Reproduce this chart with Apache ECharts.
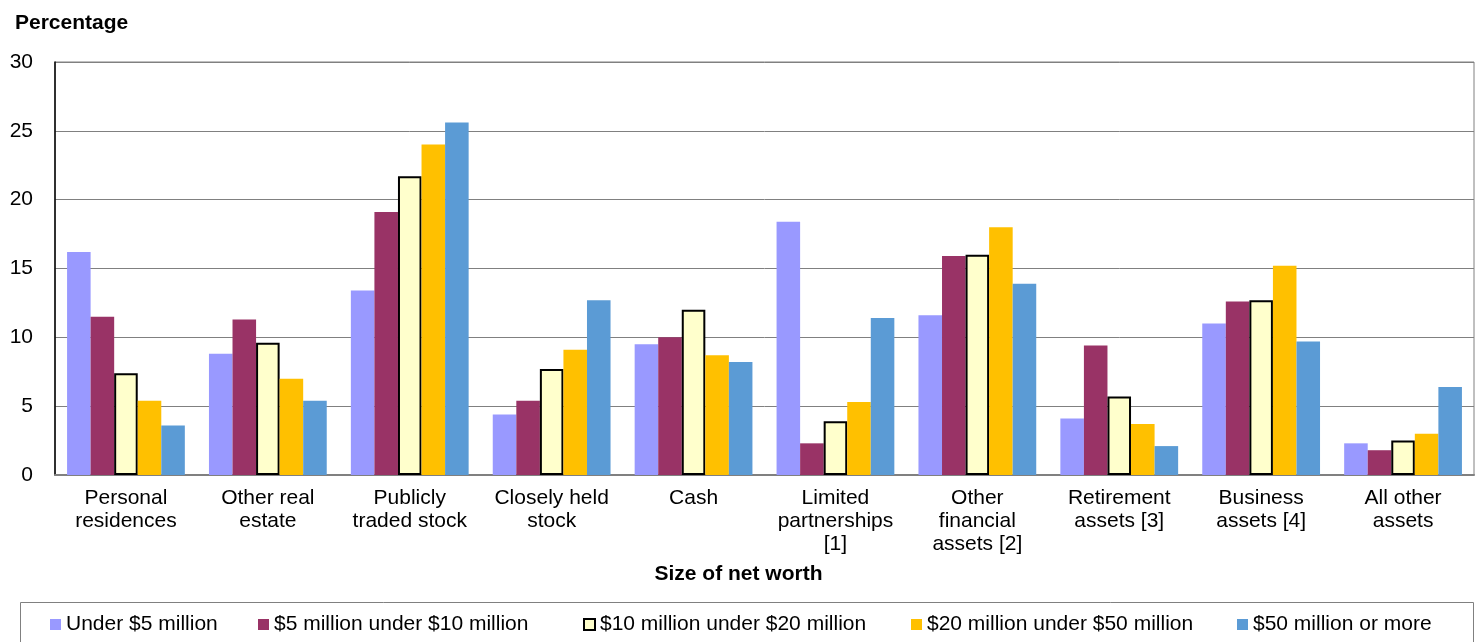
<!DOCTYPE html>
<html><head><meta charset="utf-8">
<script src="https://cdn.jsdelivr.net/npm/echarts@6/dist/echarts.min.js"></script>
<style>html,body{margin:0;padding:0;background:#fff}#c{width:1477px;height:642px}</style>
</head><body><div id="c"></div>
<script>
const categories = ['Personal\nresidences','Other real\nestate','Publicly\ntraded stock','Closely held\nstock','Cash','Limited\npartnerships\n[1]','Other\nfinancial\nassets [2]','Retirement\nassets [3]','Business\nassets [4]','All other\nassets'];
const seriesNames = ['Under $5 million','$5 million under $10 million','$10 million under $20 million','$20 million under $50 million','$50 million or more'];
const under5 = [16.2, 8.8, 13.4, 4.4, 9.5, 18.4, 11.6, 4.1, 11.0, 2.3];
const m5to10 = [11.5, 11.3, 19.1, 5.4, 10.0, 2.3, 15.9, 9.4, 12.6, 1.8];
const m10to20 = [7.4, 9.6, 21.7, 7.7, 12.0, 3.9, 16.0, 5.7, 12.7, 2.5];
const m20to50 = [5.4, 7.0, 24.0, 9.1, 8.7, 5.3, 18.0, 3.7, 15.2, 3.0];
const m50plus = [3.6, 5.4, 25.6, 12.7, 8.2, 11.4, 13.9, 2.1, 9.7, 6.4];
const yTicks = [0, 5, 10, 15, 20, 25, 30];

const colors = ['#9999FF','#993366','#FFFFCC','#FFC000','#5B9BD5'];
const dataSets = [under5, m5to10, m10to20, m20to50, m50plus];
const legendLefts = [50, 258, 583, 911, 1237];
const font = 'Liberation Sans, Arial, sans-serif';
const fs = 21;

const chart = echarts.init(document.getElementById('c'));
chart.setOption({
  animation: false,
  textStyle: {fontFamily: font},
  grid: {left: 55, right: 3, top: 62, bottom: 167, show: true, borderColor: '#808080', borderWidth: 1},
  title: {text: 'Percentage', left: 10, top: 8, textStyle: {fontFamily: font, fontSize: fs, fontWeight: 'bold', color: '#000'}},
  graphic: [
    {type: 'rect', shape: {x: 20.5, y: 602.5, width: 1453, height: 60}, style: {fill: 'none', stroke: '#808080', lineWidth: 1}},
    {type: 'text', left: 'center', top: 564, style: {text: 'Size of net worth', font: 'bold 21px Liberation Sans, Arial, sans-serif', fill: '#000'}}
  ],
  legend: seriesNames.map((n, i) => ({
    left: legendLefts[i], top: 614, itemWidth: 11, itemHeight: 11, padding: 0,
    icon: 'rect', selectedMode: false,
    textStyle: {fontFamily: font, fontSize: fs, color: '#000', padding: [0, 0, 0, 0]},
    data: [{name: n, itemStyle: i === 2 ? {color: '#FFFFCC', borderColor: '#000', borderWidth: 2} : {}}]
  })),
  xAxis: {
    type: 'category', data: categories,
    axisLine: {lineStyle: {color: '#808080', width: 2}},
    axisTick: {show: false},
    axisLabel: {fontFamily: font, fontSize: fs, color: '#000', lineHeight: 23, margin: 12, interval: 0}
  },
  yAxis: {
    type: 'value', min: 0, max: 30, interval: 5,
    axisLine: {show: true, lineStyle: {color: '#000', width: 1.5}},
    axisTick: {show: false},
    splitLine: {lineStyle: {color: '#808080', width: 1}},
    axisLabel: {fontFamily: font, fontSize: fs, color: '#000', margin: 22,
      formatter: v => yTicks.includes(v) ? String(v) : ''}
  },
  series: dataSets.map((d, i) => ({
    name: seriesNames[i], type: 'bar', data: d,
    barGap: '0%', barCategoryGap: '17%',
    itemStyle: i === 2 ? {color: colors[i], borderColor: '#000', borderWidth: 2} : {color: colors[i]}
  }))
});
</script></body></html>
